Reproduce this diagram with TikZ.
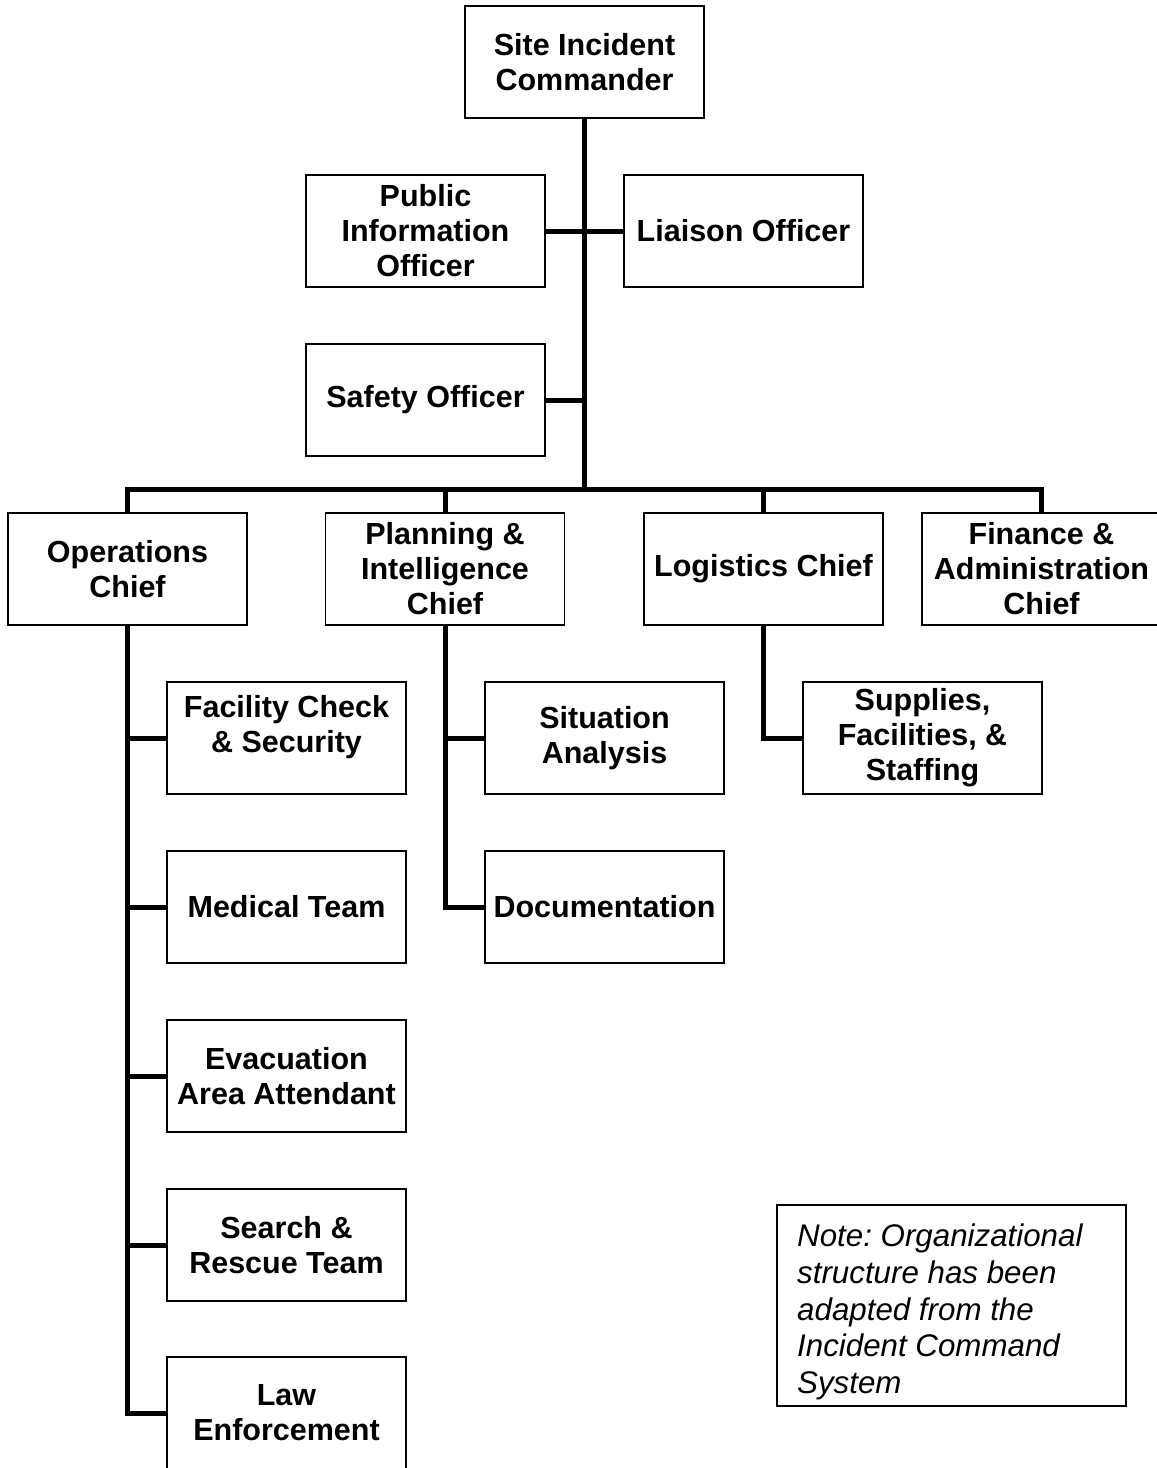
\documentclass[tikz,border=0pt]{standalone}
\usepackage{fontspec}
\setmainfont{Liberation Sans}
\begin{document}
\frenchspacing
\begin{tikzpicture}[x=1pt,y=-1pt,
  box/.style={draw,line width=1.6pt,minimum width=239pt,minimum height=112pt,inner sep=0pt,align=center,font=\bfseries\fontsize{30.5}{35}\selectfont},
  conn/.style={line width=5pt,line join=miter}]
\useasboundingbox (0,0) rectangle (1157,1468);
\node[box] (sic) at (584.5,62) {Site Incident\\Commander};
\node[box] (pio) at (425.5,231) {Public\\Information\\Officer};
\node[box] (lia) at (743.5,231) {Liaison Officer};
\node[box] (saf) at (425.5,400) {Safety Officer};
\node[box] (ops) at (127.5,569) {Operations\\Chief};
\node[box] (pln) at (445,569) {Planning \&\\Intelligence\\Chief};
\node[box] (log) at (763.5,569) {Logistics Chief};
\node[box] (fin) at (1041.5,569) {Finance \&\\Administration\\Chief};
\node[box] (fac) at (286.5,738) {Facility Check\\\& Security\\[-7pt]};
\node[box] (med) at (286.5,907) {Medical Team};
\node[box] (eva) at (286.5,1076) {Evacuation\\Area Attendant};
\node[box] (sar) at (286.5,1245) {Search \&\\Rescue Team};
\node[box] (law) at (286.5,1413) {Law\\Enforcement};
\node[box] (sit) at (604.5,738) {Situation\\Analysis};
\node[box] (doc) at (604.5,907) {Documentation};
\node[box] (sup) at (922.5,738) {Supplies,\\Facilities, \&\\Staffing};
\draw[line width=1.6pt] (777,1205) rectangle (1126,1406);
\node[anchor=north west,inner sep=0pt,align=left,font=\itshape\fontsize{31.3}{36.7}\selectfont] (note) at (797,1224) {Note: Organizational\\structure has been\\adapted from the\\Incident Command\\System};
\coordinate (trunk) at (584.5,489);
\draw[conn] (sic.south) -- (trunk);
\draw[conn] (pio.east) -- (lia.west);
\draw[conn] (saf.east) -- (saf.east -| trunk);
\draw[conn] (ops.north) -- (ops.north |- trunk) -- (fin.north |- trunk) -- (fin.north);
\draw[conn] (pln.north) -- (pln.north |- trunk);
\draw[conn] (log.north) -- (log.north |- trunk);
\draw[conn] (ops.south) -- (ops.south |- law.west) -- (law.west);
\foreach \n in {fac,med,eva,sar} \draw[conn] (\n.west -| ops.south) -- (\n.west);
\draw[conn] (pln.south) -- (pln.south |- doc.west) -- (doc.west);
\draw[conn] (sit.west -| pln.south) -- (sit.west);
\draw[conn] (log.south) -- (log.south |- sup.west) -- (sup.west);
\end{tikzpicture}
\end{document}
